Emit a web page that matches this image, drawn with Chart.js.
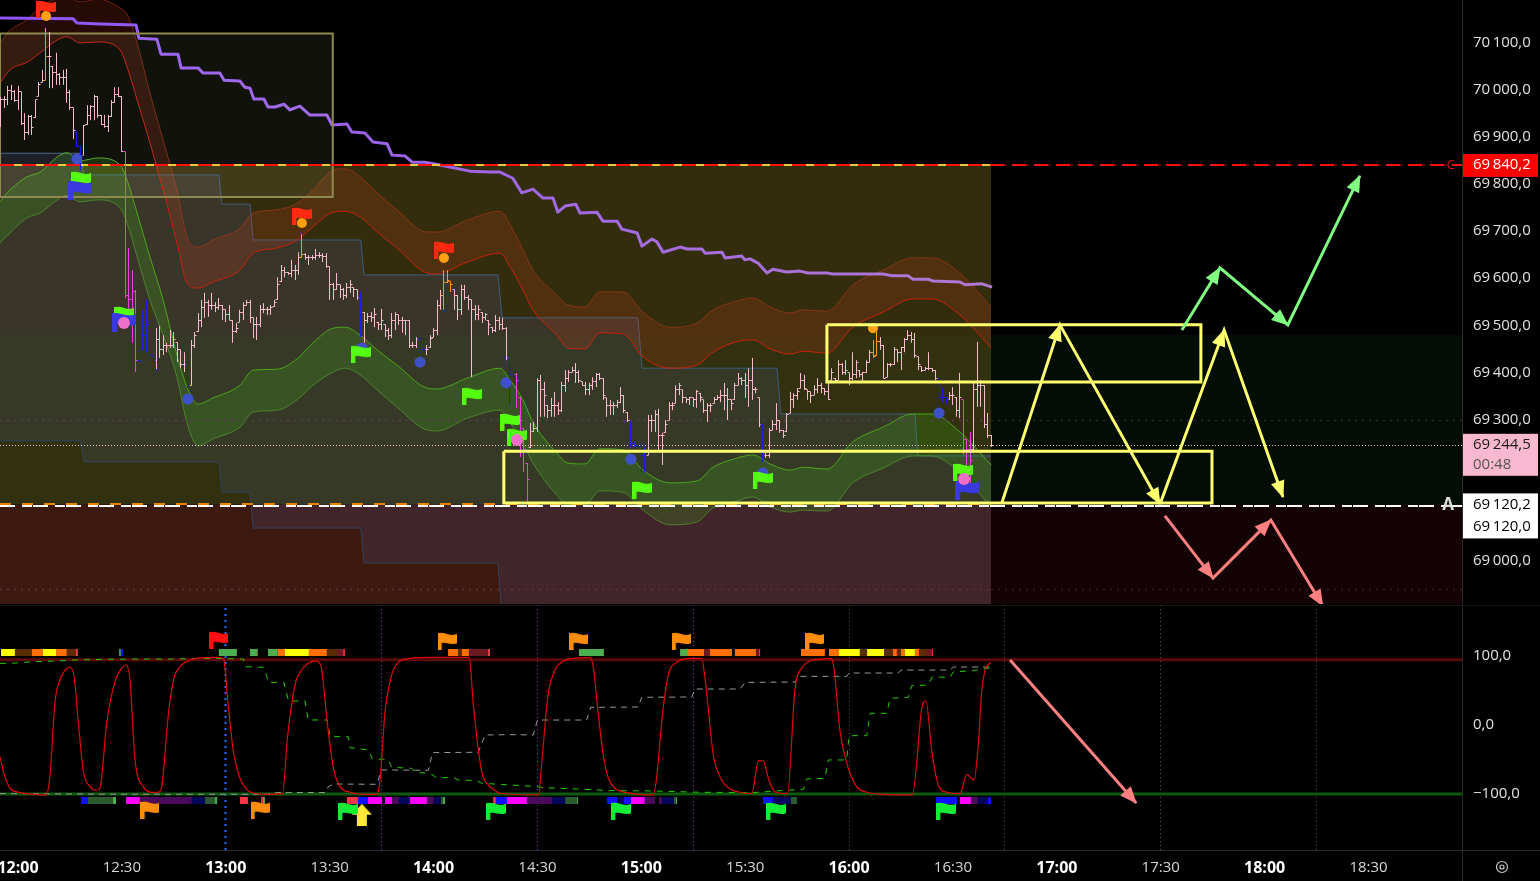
<!DOCTYPE html>
<html>
<head>
<meta charset="utf-8">
<title>Chart</title>
<script src="https://cdn.jsdelivr.net/npm/chart.js@4"></script>
<style>
html, body { margin: 0; padding: 0; background: #000; overflow: hidden; }
canvas { position: absolute; left: 0; display: block; }
#price { top: 0; }
#osc { top: 605px; }
</style>
</head>
<body>
<canvas id="price" width="1540" height="604"></canvas>
<canvas id="osc" width="1540" height="276"></canvas>
<script>
// time axis is minutes since midnight
var axisStart = 714.8, axisEnd = 1137;
var priceMin = 68909, priceMax = 70190;
var timeTicks = [720,750,780,810,840,870,900,930,960,990,1020,1050,1080,1110];
var priceTicks = [70100,70000,69900,69800,69700,69600,69500,69400,69300,69200,69100,69000];
var oscTicks = [100,0,-100];

// one minute bars, first bar at 11:55, open is the previous close
var firstBar = 715;
var barHigh = [69984,69986,70008,70010,69999,70008,69995,69950,69946,
69946,69978,70016,70042,70131,70122,70050,70078,
70035,70042,70044,69999,69961,69910,69880,69925,69967,69967,
69989,69986,69946,69946,69946,69978,70005,70005,69986,69868,
69664,69617,69575,69526,69533,69554,69501,69437,69494,69499,
69479,69463,69490,69486,69463,69448,69443,69416,69469,69486,69526,
69554,69569,69554,69569,69549,69558,69543,69533,69543,69511,69505,69533,69549,
69554,69554,69516,69518,69543,69547,69539,69543,69554,69602,
69628,69624,69613,69639,69628,69655,69694,69653,69649,69649,
69662,69655,69653,69653,69624,69590,69611,69586,69579,69590,
69596,69581,69575,69571,69528,69526,69528,69537,69507,
69535,69501,69494,69526,69528,69522,69518,69511,69511,69465,
69475,69473,69473,69458,69479,69494,69554,69575,69617,69617,
69592,69575,69564,69586,69586,69564,69554,69543,69543,69528,
69526,69511,69496,69522,69518,69516,69496,69431,69409,69399,
69348,69282,69208,69293,69295,69388,69395,69380,69331,69346,
69359,69337,69380,69405,69405,69412,69420,69405,69380,69380,
69378,69390,69399,69399,69388,69346,69342,69337,69342,69369,
69352,69316,69295,69253,69250,69250,69242,69310,69310,69320,
69323,69272,69299,69337,69337,69373,69378,69363,69346,69348,
69346,69363,69356,69342,69335,69335,69348,69352,69363,69378,
69367,69342,69378,69399,69390,69399,69409,69431,69369,69346,
69289,69229,69282,69299,69335,69299,69278,69314,69359,69356,
69367,69399,69395,69363,69359,69373,69388,69378,69367,69378,
69409,69388,69426,69420,69426,69399,69443,69426,69405,69401,
69426,69448,69469,69486,69475,69458,69420,69420,69454,69448,
69454,69473,69490,69486,69484,69433,69412,69412,69443,69409,
69405,69388,69367,69348,69359,69369,69348,69399,69342,69257,
69274,69378,69465,69384,69373,69314,69267];
var barLow = [69921,69961,69967,69978,69974,69957,69925,69893,69904,
69904,69940,69986,70016,70020,70003,70003,70010,
70010,70010,69972,69957,69895,69878,69829,69861,69925,69935,
69935,69940,69925,69919,69910,69942,69972,69984,69868,69558,
69501,69463,69401,69424,69448,69443,69433,69401,69407,69431,
69437,69443,69452,69452,69422,69409,69401,69367,69373,69452,69486,
69496,69516,69518,69533,69528,69533,69511,69507,69511,69463,69484,69507,69511,
69543,69505,69473,69469,69496,69526,69522,69522,69539,69554,
69592,69602,69607,69602,69596,69607,69643,69639,69628,69639,
69639,69643,69634,69622,69554,69554,69575,69558,69554,69558,
69569,69560,69554,69475,69463,69505,69507,69496,69490,
69490,69475,69469,69473,69490,69501,69484,69479,69452,69452,
69452,69441,69420,69437,69452,69475,69479,69533,69533,69590,
69571,69533,69511,69522,69554,69533,69390,69511,69511,69505,
69511,69479,69484,69486,69490,69490,69426,69331,69390,69325,
69221,69189,69127,69240,69274,69274,69306,69306,69303,69306,
69306,69310,69316,69359,69380,69401,69378,69378,69373,69352,
69352,69363,69369,69384,69342,69306,69310,69310,69325,69335,
69314,69295,69242,69242,69240,69189,69187,69225,69274,69274,
69236,69204,69272,69299,69320,69335,69352,69335,69335,69331,
69327,69325,69337,69314,69295,69316,69335,69342,69337,69320,
69299,69320,69342,69373,69373,69346,69327,69342,69356,69284,
69210,69219,69219,69278,69278,69272,69261,69274,69314,69325,
69342,69367,69363,69342,69335,69352,69356,69356,69352,69342,
69384,69378,69384,69395,69395,69373,69384,69388,69390,69378,
69399,69422,69431,69435,69448,69388,69390,69412,69416,69422,
69405,69443,69469,69463,69431,69405,69401,69405,69405,69401,
69384,69346,69337,69335,69342,69331,69306,69303,69225,69193,
69161,69236,69327,69327,69282,69261,69242];
var barClose = [69978,69980,69999,69995,69976,69995,69929,69910,69942,
69919,69978,70010,70020,70071,70071,70037,70033,
70025,70025,69993,69961,69914,69882,69861,69923,69946,69965,
69986,69946,69927,69921,69942,69972,69989,69986,69868,69564,
69554,69571,69426,69424,69479,69501,69437,69426,69469,69448,
69458,69458,69458,69469,69448,69416,69416,69373,69458,69479,69511,
69537,69549,69543,69543,69537,69543,69533,69522,69511,69486,69494,69528,69543,
69549,69516,69501,69501,69533,69533,69533,69537,69549,69586,
69617,69613,69609,69617,69617,69643,69651,69643,69643,69643,
69649,69649,69645,69624,69586,69575,69586,69575,69564,69581,
69586,69575,69558,69543,69511,69518,69516,69522,69501,
69511,69490,69479,69511,69522,69511,69511,69511,69458,69458,
69469,69448,69448,69448,69473,69490,69543,69564,69590,69596,
69586,69564,69533,69575,69560,69554,69533,69522,69533,69516,
69522,69501,69490,69511,69501,69494,69431,69395,69395,69384,
69299,69236,69172,69246,69282,69384,69363,69352,69320,69331,
69331,69320,69373,69388,69401,69405,69401,69384,69373,69363,
69373,69380,69395,69388,69352,69331,69331,69331,69337,69352,
69320,69299,69250,69246,69244,69225,69225,69299,69299,69310,
69267,69267,69289,69331,69331,69363,69373,69346,69342,69346,
69342,69359,69346,69320,69331,69331,69342,69346,69352,69352,
69342,69335,69373,69388,69384,69373,69384,69363,69363,69289,
69225,69225,69278,69289,69299,69278,69267,69310,69342,69352,
69359,69384,69367,69359,69352,69363,69373,69367,69359,69342,
69401,69384,69416,69401,69405,69388,69395,69422,69395,69401,
69422,69443,69433,69465,69458,69388,69416,69416,69448,69443,
69452,69469,69479,69469,69435,69416,69405,69409,69409,69405,
69388,69346,69346,69342,69352,69352,69320,69346,69257,69236,
69214,69363,69373,69373,69289,69267,69244.5];
var blueBars = [22,23,40,41,42,43,44,54,104,121,122,147,148,182,183,184,185,186,220,271,272,273];
var magentaBars = [36,37,38,39,149,150,151,152,278,279,280];
var orangeBars = [13,87,128,129,130,252,253];

// moving average
var avgTime = [714.8,735.9,737,743.7,754.1,754.9,760.1,761.3,766.2,767.1,772,773.4,778.3,779.5,784.1,785.5,787,788.1,791,792.2,794.2,796.8,798.5,801.4,804.3,809.2,810.7,815,816.4,820.2,822.5,826.6,828,831.8,833.8,837.5,840.4,844.7,850.5,856.3,859.2,862.9,865.5,868.7,871.6,874.5,875.9,878,881.1,882.3,887.2,888.9,893,894.4,898.8,900.2,903.1,904.5,906.3,911.2,913.2,917.5,918.4,923.3,924.2,929,929.9,931.4,933.7,936.3,938,942,945.8,948.1,953.6,955.3,965.2,969.8,972.4,977,978.4,982.8,984.2,992,993.5,998.4,1001.3];
var avgPrice = [70152,70150,70141,70139,70137,70109,70107,70075,70075,70046,70046,70035,70035,70020,70018,70005,70003,69980,69980,69963,69963,69969,69957,69965,69946,69946,69925,69927,69910,69908,69889,69885,69861,69859,69846,69846,69842,69836,69827,69825,69825,69812,69781,69789,69770,69770,69740,69753,69757,69738,69740,69721,69721,69704,69696,69668,69683,69677,69655,69666,69662,69662,69653,69655,69643,69647,69639,69641,69632,69611,69619,69613,69615,69611,69611,69609,69609,69609,69605,69605,69598,69598,69594,69592,69586,69588,69581];

// bands
var bandTime = [714.8,717.7,722.6,726.4,731.3,734.1,737.9,743.1,749.5,751.5,754.4,758.1,761.9,765.9,768.8,772,776.3,784.1,787.9,794.8,800.6,805.2,811,814.4,818.8,823.7,829.4,838.1,841,849.7,859.2,862.1,865.8,868.7,875.6,878.8,883.7,888,894.7,900.5,908.3,916.1,920.7,926.5,932.2,937.2,942.9,946.7,953.6,961.1,969.8,978.4,983.9,992,1001];
var redTop = [70099,70126,70148,70175,70194,70198,70186,70192,70173,70160,70099,69993,69893,69787,69687,69666,69681,69706,69738,69745,69759,69787,69829,69832,69815,69781,69745,69698,69698,69723,69742,69713,69660,69617,69564,69543,69539,69571,69571,69528,69496,69505,69533,69549,69558,69539,69526,69533,69530,69586,69617,69643,69643,69611,69539];
var redBottom = [70014,70042,70058,70078,70105,70112,70099,70101,70084,70048,69978,69887,69787,69675,69590,69579,69592,69617,69653,69664,69681,69709,69740,69742,69730,69698,69664,69611,69609,69634,69653,69624,69575,69533,69479,69452,69450,69484,69482,69433,69409,69416,69443,69463,69469,69450,69439,69445,69441,69496,69528,69556,69556,69522,69452];
var greenTop = [69762,69787,69815,69825,69857,69866,69849,69855,69840,69808,69738,69645,69554,69437,69369,69333,69346,69373,69405,69407,69429,69463,69494,69496,69479,69448,69416,69367,69365,69388,69409,69384,69342,69295,69229,69208,69206,69238,69236,69193,69166,69170,69199,69216,69225,69206,69193,69199,69195,69253,69284,69312,69312,69274,69204];
var greenBottom = [69675,69696,69728,69738,69766,69776,69762,69766,69749,69717,69645,69554,69479,69390,69293,69244,69259,69284,69316,69320,69342,69373,69401,69409,69395,69363,69327,69278,69276,69303,69320,69293,69250,69208,69140,69119,69119,69149,69146,69108,69077,69083,69113,69125,69136,69115,69104,69108,69106,69166,69197,69223,69223,69187,69115];

// stepped channel
var channelTime = [714.8,737.9,739.1,778,778.9,787,787.9,819,819.9,858.6,859.8,899,900.2,939.2,940.3,979,979.9,1001];
var channelTop = [69865,69865,69819,69819,69757,69757,69681,69681,69607,69607,69516,69516,69409,69409,69312,69312,69223,69223];
var channelBottom = [69255,69255,69210,69210,69146,69146,69070,69070,68996,68996,68875,68875,68811,68811,68748,68748,68684,68684];

// levels
var levelC = 69840.2, levelA = 69120.2, levelA2 = 69120, lastPrice = 69244.5;
var dotLevelHigh = 69299, dotLevelLow = 68939, zoneGreenTop = 69480;
var sessionEnd = 1001;

// drawn rectangles [start, end, top, bottom]
var box1 = [714.8, 810.9, 70119, 69772];
var box2 = [953.6, 1061.6, 69501, 69380];
var box3 = [860.3, 1064.8, 69233, 69123];

// drawn arrows
var yellowArrowTime1 = [1004.1, 1020.9, 1049.8];
var yellowArrowPrice1 = [69123, 69501, 69121];
var yellowArrowTime2 = [1049.8, 1068.3, 1085.3];
var yellowArrowPrice2 = [69121, 69490, 69136];
var greenArrowTime = [1056.1, 1067.1, 1086.7, 1107.5];
var greenArrowPrice = [69490, 69622, 69501, 69817];
var pinkArrowTime = [1051.2, 1065.1, 1081.8, 1096.8];
var pinkArrowPrice = [69096, 68964, 69087, 68905];
var oscArrowTime = [1006.5, 1042.9];
var oscArrowValue = [93.5, -113];

// signal markers on price
var redFlagTime = [728.1, 802, 843];
var redFlagPrice = [70171, 69732, 69660];
var limeFlagTime = [738.2, 750.6, 819, 851.1, 862.1, 864.1, 900.2, 935.1, 992.9];
var limeFlagPrice = [69808, 69522, 69439, 69350, 69295, 69263, 69151, 69172, 69189];
var blueFlagTime = [737.9, 750.6, 994];
var blueFlagPrice = [69787, 69507, 69151];
var orangeDotTime = [728.1, 802, 843, 966.9];
var orangeDotPrice = [70156, 69717, 69643, 69494];
var blueDotTime = [737, 769.1, 819.3, 836.1, 860.9, 897, 935.1, 986];
var blueDotPrice = [69853, 69344, 69452, 69422, 69378, 69216, 69187, 69314];
var pinkDotTime = [750.6, 864.1, 993.2];
var pinkDotPrice = [69505, 69257, 69174];

// oscillator
var oscTime = [714.8,715.8,717.7,720.6,724.4,728.1,729.2,730.7,732.1,733.6,735,736.2,737.4,738.9,740.8,742.7,743.7,745.6,748,749.9,751.2,752.3,753.8,756.2,758.6,760.5,761.5,763.4,764.9,766.8,769.7,773.5,777.4,779.3,780.7,782.2,784.1,786,788,791.8,796.4,797.8,800,801.9,803.8,806.2,807.4,809.6,811.1,813,815.9,820.7,823.6,824.5,826,827.9,829.8,833.2,839.9,850.3,851.5,853.9,855.8,858.2,859.2,870.3,871.2,873,875.1,877.5,880.4,885.2,886.2,887.6,889,890.5,892.4,895.8,903.5,904.4,906.2,907.8,910.2,914.1,917.4,918.4,920.8,923.2,925.6,928.5,931.9,933.8,935.2,936.7,938.1,940,942.2,944.4,946.3,948.7,951.6,954.5,955.5,957.4,959.8,962.2,965.1,969.9,978.3,981,982.2,983.9,985.8,988.2,992,994,996.1,997.3,998.3,999.3,1000.9];
var oscValue = [-46,-67.8,-91.8,-98,-100.5,-101.4,-75,33.3,64.6,79,83.4,69.4,4.4,-67.8,-89.4,-94.7,-90.9,2,62.2,81.5,86.3,67,-50.9,-89.4,-97.6,-97.6,-89.4,14,64.6,83.9,93.5,96.9,97.3,95.9,28.5,-38.9,-77.4,-93.3,-99,-100.5,-99.5,-19.6,57.4,79,88.7,92,86.3,-10,-62.9,-89.4,-97.6,-100.5,-100.5,-82.2,18.9,71.8,90.1,95.9,97.3,97.3,28.5,-67.8,-87,-96.6,-99,-101.4,-58.1,40.5,79,92,95.9,96.9,81.5,14,-43.7,-77.4,-91.8,-98,-101.4,-77.4,18.9,71.8,90.1,95.9,95.9,67,-43.7,-79.8,-92.8,-97.6,-99.5,-52.3,-52.3,-77.4,-94.2,-99,-99.5,52.6,81.5,92,94.9,95.9,86.3,-10,-62.9,-89.4,-97.6,-100.5,-101.4,23.7,34.3,-38.9,-87,-97.6,-99.5,-71.6,-79.8,-29.2,47.8,79,90.1];
var fastTime = [714.8,717.7,724.4,730.7,736.5,743.7,753.3,762.9,777.4,785.1,785.6,790.8,791.8,792.3,796.8,798.1,802.9,803.8,809.3,810.1,815.4,815.9,821.2,822.3,826.9,827.9,833.7,834.6,839,840.9,845.7,847.2,852.5,853.9,862.1,869.8,871.7,881.3,891,903.5,917,932.4,942,946.8,947.8,953,954,959.3,960,965.1,966.1,970.9,971.8,977.1,978.1,982.9,983.9,989.2,990.1,994.9,1000.9];
var fastValue = [88.7,88.7,91.1,92,93.5,94.4,94.9,94.9,95.9,94.9,83.9,82.9,70.9,61.2,61.2,34.3,34.3,6.9,6.9,-17.2,-17.2,-33.1,-36.5,-49.5,-50,-61.5,-63,-68.7,-70.2,-76.4,-76.4,-79.8,-80.7,-84.6,-87,-89.4,-90.9,-92.8,-95.2,-95.7,-97.6,-98,-94.7,-93.3,-78.3,-77.4,-50.9,-50.9,-15.8,-15.8,16.5,16.5,38.1,39.6,56.4,57.4,68.5,68.9,76.6,77.6,82.4];
var slowTime = [714.8,753.3,791.8,794.7,808.7,809.6,811.1,823.6,825,838.5,839.7,852.9,854.9,862.1,868.8,870,884.2,885.4,899.1,900.1,914.6,915.5,928.5,930,944.4,945.4,959.3,960,974.2,975,989.2,990.1,1000.9];
var slowValue = [-99.5,-100.5,-100.5,-98,-98,-89.4,-85.6,-86.1,-65.3,-65.8,-40.3,-39.8,-14.8,-14.3,-14.8,6.8,6.8,25.1,25.6,39.6,40.1,51.6,51.6,61.2,61.7,69.9,69.9,74.7,74.7,79,79,83.4,83.4];
var oscUpper = 94, oscLower = -100;
var sessionLines = [825, 870, 915];
var sessionLinesGrey = [960, 1005, 1050, 1095];
var sessionLineBlue = 780;

// state strips above and below the oscillator
var topStripValue = 104.3, bottomStripValue = -109.4;
var topStripStart = [715.1,719.1,724,727.2,731,734.1,736.7,749.2,749.7,778,787,789,792.2,795,797.1,804,809.2,812.1,813.9,844.2,847.1,848.2,850.2,855.7,882,911.2,913.2,918.1,919.8,927,933.1,934,946.1,954.2,957.1,963.1,965.2,970.1,972.7,973.8,975,976.1,979,980.2,982.2,983.9];
var topStripEnd = [719.1,724,727.2,731,734.1,736.7,737.3,749.7,750.3,783.2,789,789.3,795,797.1,804,809.2,812.1,813.9,814.4,847.1,848.2,850.2,855.7,856.3,889.2,913.2,918.1,919.8,926.2,933.1,934,934.3,953,957.1,963.1,965.2,970.1,972.7,973.8,975,976.1,979,980.2,982.2,983.9,984.2];
var topStripState = [5,3,4,5,2,3,6,0,7,0,0,6,0,4,5,2,3,1,6,4,3,4,1,6,0,0,4,1,4,4,1,6,4,4,5,3,5,3,4,3,4,5,4,3,1,6];
var bottomStripStart = [738.2,740.2,747.4,751.2,755.2,770.2,774,776.9,784.1,790.2,790.7,815,818.2,821.1,826,828,830,833.2,838.1,840.1,842.1,842.7,857.2,858,861.2,867,874.2,878,881.4,890.1,893,895,897,901,905.1,906,909.4,910,935.1,938,943.2,945,985.1,992,995.2,997.2,1000.1];
var bottomStripEnd = [740.2,747.4,748.3,755.2,770.2,774,776.9,777.5,786.4,790.7,791.3,818.2,821.1,825.1,828,830,833.2,838.1,840.1,842.1,842.7,843.3,858,861.2,867,874.2,878,881.4,881.7,893,895,897,901,904,906,909.4,910,910.3,938,943.2,945,945.2,991.2,995.2,997.2,1000.1,1001];
var bottomStripState = [7,8,0,9,10,11,8,0,6,6,0,6,7,9,9,10,11,9,10,11,8,0,6,7,9,10,11,8,0,7,11,7,9,10,10,11,8,0,7,11,8,0,7,9,10,11,7];

// signal markers on the oscillator
var redFlagOscTime = [778];
var redFlagOscValue = [122.4];
var orangeFlagOscTime = [843.9, 882, 911.5, 950.1, 758.1, 789.9];
var orangeFlagOscValue = [120.9, 120.9, 120.9, 120.9, -123, -123];
var greenFlagOscTime = [815.3, 858, 894.1, 938.9, 988];
var greenFlagOscValue = [-124.6, -124.6, -124.6, -124.6, -124.6];
var upArrowOscTime = [819.3];
var upArrowOscValue = [-130];

var axisFont = '"Open Sans", sans-serif';
var stateColors = ['#4caf50','#6b1a22','#ff7000','#5a2d00','#ff7000','#ffff00','#f23645','#1010ff','#2c5a2f','#ff00ff','#4a0a5a','#05055a'];
var pxPerMin = 1462 / (axisEnd - axisStart);
var pxPerPrice = 604 / (priceMax - priceMin);

function pts(xs, ys) { return xs.map(function (x, i) { return { x: x, y: ys[i] }; }); }
// keep thin marks on the pixel grid so they stay crisp
function snapT(t) { return axisStart + (Math.round((t - axisStart) * pxPerMin - 0.5) + 0.5) / pxPerMin; }
function snapP(p) { return priceMax - (Math.round((priceMax - p) * pxPerPrice - 0.5) + 0.5) / pxPerPrice; }
function snapP2(p) { return priceMax - Math.round((priceMax - p) * pxPerPrice) / pxPerPrice; }
function fmtNum(v, dec) {
    var neg = v < 0, s = Math.abs(v).toFixed(dec).replace('.', ',');
    var parts = s.split(',');
    var whole = parts[0].replace(/\B(?=(\d{3})+$)/g, '\u2009');
    return (neg ? '\u2212' : '') + whole + ',' + parts[1];
}
function makeFlag(color, w, h) {
    var c = document.createElement('canvas');
    c.width = w; c.height = h;
    var g = c.getContext('2d');
    g.fillStyle = color;
    g.fillRect(0, 1, w * 0.22, h - 1);
    g.beginPath();
    g.moveTo(0, 2);
    g.bezierCurveTo(w * 0.3, -2, w * 0.6, h * 0.32, w, h * 0.1);
    g.lineTo(w, h * 0.62);
    g.bezierCurveTo(w * 0.65, h * 0.8, w * 0.4, h * 0.42, 0, h * 0.72);
    g.closePath();
    g.fill();
    return c;
}
function makeUpArrow(color) {
    var c = document.createElement('canvas');
    c.width = 20; c.height = 22;
    var g = c.getContext('2d');
    g.fillStyle = color;
    g.beginPath();
    g.moveTo(10, 0); g.lineTo(20, 11); g.lineTo(15, 11); g.lineTo(15, 22);
    g.lineTo(5, 22); g.lineTo(5, 11); g.lineTo(0, 11);
    g.closePath();
    g.fill();
    return c;
}
// first pushed is drawn first, so later ones sit on top
function adder(list) {
    return function (ds) {
        ds.order = 1000 - list.length;
        if (ds.pointRadius === undefined) ds.pointRadius = 0;
        if (ds.borderWidth === undefined) ds.borderWidth = 1;
        list.push(ds);
        return ds;
    };
}
function boxPath(b) {
    return [{ x: b[0], y: b[2] }, { x: b[1], y: b[2] }, { x: b[1], y: b[3] }, { x: b[0], y: b[3] }, { x: b[0], y: b[2] }];
}
function hline(a, b, y) { return [{ x: a, y: y }, { x: b, y: y }]; }

var arrowHeads = {
    id: 'arrowHeads',
    afterDatasetsDraw: function (chart) {
        var c = chart.ctx, sx = chart.scales.x, sy = chart.scales.y;
        chart.data.datasets.forEach(function (ds) {
            if (!ds.arrows) return;
            for (var i = 1; i < ds.data.length; i++) {
                var tx = sx.getPixelForValue(ds.data[i].x), ty = sy.getPixelForValue(ds.data[i].y);
                var fx = sx.getPixelForValue(ds.data[i - 1].x), fy = sy.getPixelForValue(ds.data[i - 1].y);
                var a = Math.atan2(ty - fy, tx - fx);
                c.save();
                c.translate(tx, ty);
                c.rotate(a);
                c.fillStyle = ds.borderColor;
                c.beginPath();
                c.moveTo(1, 0); c.lineTo(-16, -7); c.lineTo(-16, 7);
                c.closePath();
                c.fill();
                c.restore();
            }
        });
    }
};

var priceTags = {
    id: 'priceTags',
    afterDraw: function (chart) {
        var c = chart.ctx, y = chart.scales.y, x = chart.scales.x;
        var left = chart.chartArea.right + 1, w = 75;
        c.save();
        c.font = '15px ' + axisFont;
        c.textBaseline = 'middle';
        c.textAlign = 'left';
        var yc = y.getPixelForValue(levelC), yl = y.getPixelForValue(lastPrice), ya = y.getPixelForValue(levelA);
        c.fillStyle = '#ff0000';
        c.fillRect(left, yc - 11, w, 23);
        c.fillStyle = '#ffffff';
        c.fillText(fmtNum(levelC, 1), left + 10, yc);
        c.fillStyle = '#f8b8d0';
        c.fillRect(left, yl - 12, w, 42);
        c.fillStyle = '#1a1a1a';
        c.fillText(fmtNum(lastPrice, 1), left + 10, yl - 1);
        c.fillStyle = '#555555';
        c.fillText('00:48', left + 10, yl + 19);
        c.fillStyle = '#ffffff';
        c.fillRect(left, ya - 11, w, 45);
        c.fillStyle = '#000000';
        c.fillText(fmtNum(levelA, 1), left + 10, ya);
        c.fillText(fmtNum(levelA2, 1), left + 10, ya + 22);
        c.textAlign = 'center';
        c.fillStyle = '#d81010';
        c.font = '13px ' + axisFont;
        c.fillText('C', x.getPixelForValue(1133.8), yc);
        c.fillStyle = '#dddddd';
        c.font = 'bold 17px ' + axisFont;
        c.fillText('A', x.getPixelForValue(1133), ya + 1);
        // axis rule and panel edge
        c.strokeStyle = '#2a2a2a';
        c.beginPath();
        c.moveTo(chart.chartArea.right + 0.5, 0);
        c.lineTo(chart.chartArea.right + 0.5, chart.height);
        c.stroke();
        c.restore();
    }
};

var oscChrome = {
    id: 'oscChrome',
    afterDraw: function (chart) {
        var c = chart.ctx, a = chart.chartArea;
        c.save();
        c.strokeStyle = '#2a2a2a';
        c.beginPath();
        c.moveTo(a.right + 0.5, 0); c.lineTo(a.right + 0.5, chart.height);
        c.moveTo(0, a.bottom + 0.5); c.lineTo(chart.width, a.bottom + 0.5);
        c.moveTo(0, 0); c.lineTo(chart.width, 0);
        c.stroke();
        c.strokeStyle = '#c8c8c8';
        c.lineWidth = 1.2;
        c.beginPath();
        c.arc(1502, 262, 5.5, 0, Math.PI * 2);
        c.stroke();
        c.beginPath();
        c.arc(1502, 262, 2, 0, Math.PI * 2);
        c.stroke();
        c.restore();
    }
};

function noPadding(s) {
    s.paddingTop = 0; s.paddingBottom = 0; s.paddingLeft = 0; s.paddingRight = 0;
}

function baseOptions(yMin, yMax, yTicks, showTime, dec) {
    return {
        responsive: false,
        animation: false,
        events: [],
        layout: { padding: 0, autoPadding: false },
        plugins: { legend: { display: false }, tooltip: { enabled: false } },
        scales: {
            x: {
                type: 'linear',
                min: axisStart,
                max: axisEnd,
                display: showTime,
                grid: { display: false },
                border: { display: false },
                afterBuildTicks: function (s) { s.ticks = timeTicks.map(function (v) { return { value: v }; }); },
                afterFit: function (s) { if (showTime) s.height = 31; noPadding(s); },
                ticks: {
                    autoSkip: false,
                    maxRotation: 0,
                    padding: 1,
                    callback: function (v) {
                        var m = v % 60;
                        return Math.floor(v / 60) + ':' + (m < 10 ? '0' + m : m);
                    },
                    font: function (ctx) {
                        var major = ctx.tick && ctx.tick.value % 60 === 0;
                        return { family: axisFont, size: major ? 16 : 15, weight: major ? 'bold' : 'normal' };
                    },
                    color: function (ctx) { return ctx.tick && ctx.tick.value % 60 === 0 ? '#ffffff' : '#d6d6d6'; }
                }
            },
            y: {
                type: 'linear',
                position: 'right',
                min: yMin,
                max: yMax,
                grid: { display: false },
                border: { display: false },
                afterBuildTicks: function (s) { s.ticks = yTicks.map(function (v) { return { value: v }; }); },
                afterFit: function (s) { s.width = 78; noPadding(s); },
                ticks: {
                    autoSkip: false,
                    padding: 3,
                    color: '#e2e2e2',
                    font: { family: axisFont, size: 15 },
                    callback: function (v) { return fmtNum(v, dec); }
                }
            }
        }
    };
}

// price panel
var priceSets = [];
var addPrice = adder(priceSets);
var smooth = 'monotone';
addPrice({ data: hline(axisStart, axisEnd, zoneGreenTop), borderWidth: 0, fill: { value: levelA2 }, backgroundColor: 'rgba(20,90,40,0.14)' });
addPrice({ data: hline(axisStart, axisEnd, levelA2), borderWidth: 0, fill: { value: priceMin }, backgroundColor: '#140204' });
addPrice({ data: hline(axisStart, sessionEnd, levelC), borderWidth: 0, fill: { value: levelA2 }, backgroundColor: '#332d0e' });
addPrice({ data: hline(axisStart, sessionEnd, levelA2), borderWidth: 0, fill: { value: priceMin }, backgroundColor: '#3d1a10' });
addPrice({ data: pts(channelTime, channelTop), borderColor: '#3d5c80', fill: '+1', backgroundColor: 'rgba(90,95,170,0.17)' });
addPrice({ data: pts(channelTime, channelBottom), borderColor: '#33405e' });
addPrice({ data: hline(axisStart, sessionEnd, zoneGreenTop), borderWidth: 0, fill: { value: levelA2 }, backgroundColor: 'rgba(20,140,40,0.05)' });
addPrice({ data: pts(bandTime, redTop), cubicInterpolationMode: smooth, borderColor: 'rgba(200,60,25,0.5)', fill: '+1', backgroundColor: 'rgba(255,70,30,0.15)' });
addPrice({ data: pts(bandTime, redBottom), cubicInterpolationMode: smooth, borderColor: 'rgba(220,30,10,0.85)' });
addPrice({ data: pts(bandTime, greenTop), cubicInterpolationMode: smooth, borderColor: '#4aa61c', fill: '+1', backgroundColor: 'rgba(70,255,20,0.14)' });
addPrice({ data: pts(bandTime, greenBottom), cubicInterpolationMode: smooth, borderColor: 'rgba(90,170,50,0.6)' });
addPrice({
    data: pts(avgTime, avgPrice),
    borderWidth: 3,
    borderJoinStyle: 'round',
    borderColor: function (ctx) {
        var a = ctx.chart.chartArea;
        if (!a) return '#9b5ff0';
        var g = ctx.chart.ctx.createLinearGradient(0, 0, 992, 0);
        g.addColorStop(0, '#8f55f8');
        g.addColorStop(1, '#b078d0');
        return g;
    }
});
addPrice({ data: hline(box1[0], box1[1], box1[2]), borderWidth: 0, fill: { value: box1[3] }, backgroundColor: 'rgba(255,255,180,0.07)' });
addPrice({ data: boxPath(box1), borderColor: '#8f8850', borderWidth: 2 });
addPrice({ data: hline(axisStart, sessionEnd, snapP(dotLevelHigh)), borderColor: '#5c3c52', borderWidth: 1.5, borderDash: [2, 5] });
addPrice({ data: hline(sessionEnd, axisEnd, snapP(dotLevelHigh)), borderColor: '#2c2a2c', borderWidth: 1.5, borderDash: [2, 5] });
addPrice({ data: hline(axisStart, sessionEnd, snapP(dotLevelLow)), borderColor: '#6a2c3c', borderWidth: 1.5, borderDash: [2, 5] });
addPrice({ data: hline(sessionEnd, axisEnd, snapP(dotLevelLow)), borderColor: '#44162c', borderWidth: 1.5, borderDash: [2, 5] });
addPrice({ data: hline(axisStart, axisEnd, snapP(lastPrice)), borderColor: '#f8bbd0', borderWidth: 1, borderDash: [1, 2] });
addPrice({ data: hline(axisStart, axisEnd, snapP2(levelA - 2.5)), borderColor: '#ffffff', borderWidth: 2, borderDash: [15, 18] });
addPrice({ data: hline(axisStart, axisEnd, snapP2(levelA - 2.5)), borderColor: '#f5f5f5', borderWidth: 2, borderDash: [10, 23], borderDashOffset: -22 });
addPrice({ data: hline(axisStart, sessionEnd, snapP2(levelA + 1)), borderColor: '#e88400', borderWidth: 2, borderDash: [11, 11] });
addPrice({ data: hline(axisStart, sessionEnd, snapP2(levelC)), borderColor: '#e8c840', borderWidth: 2 });
addPrice({ data: hline(sessionEnd, axisEnd, snapP2(levelC)), borderColor: '#5c0505', borderWidth: 2, borderDash: [16, 6] });
addPrice({ data: hline(axisStart, axisEnd, snapP2(levelC)), borderColor: '#ff1010', borderWidth: 2, borderDash: [14, 8] });

// ohlc bars as one path per colour: open tick, wick, close tick
function barPath(color) {
    var out = [], tick = 2 / pxPerMin;
    barHigh.forEach(function (h, i) {
        var c = 'pink';
        if (blueBars.indexOf(i) >= 0) c = 'blue';
        if (magentaBars.indexOf(i) >= 0) c = 'magenta';
        if (orangeBars.indexOf(i) >= 0) c = 'orange';
        if (c !== color) return;
        var t = snapT(firstBar + i), open = i > 0 ? barClose[i - 1] : barClose[0];
        open = snapP(Math.min(h, Math.max(barLow[i], open)));
        var close = snapP(barClose[i]);
        out.push({ x: t - tick, y: open }, { x: t, y: open }, { x: t, y: null });
        out.push({ x: t, y: barLow[i] }, { x: t, y: h }, { x: t, y: null });
        out.push({ x: t, y: close }, { x: t + tick, y: close }, { x: t + tick, y: null });
    });
    return out;
}
addPrice({ data: barPath('pink'), borderColor: '#f8bbd0', borderWidth: 1, spanGaps: false });
addPrice({ data: barPath('blue'), borderColor: '#1c1ce8', borderWidth: 1, spanGaps: false });
addPrice({ data: barPath('magenta'), borderColor: '#f040e0', borderWidth: 1, spanGaps: false });
addPrice({ data: barPath('orange'), borderColor: '#ff9c10', borderWidth: 1, spanGaps: false });

addPrice({ data: pts(blueDotTime, blueDotPrice), showLine: false, pointRadius: 5.5, pointBorderWidth: 0, pointBackgroundColor: '#3f51c8' });
addPrice({ data: pts(orangeDotTime, orangeDotPrice), showLine: false, pointRadius: 5, pointBorderWidth: 0, pointBackgroundColor: '#ffa010' });
addPrice({ data: pts(redFlagTime, redFlagPrice), showLine: false, pointRadius: 10, pointStyle: makeFlag('#ff2a10', 20, 18) });
addPrice({ data: pts(limeFlagTime, limeFlagPrice), showLine: false, pointRadius: 10, pointStyle: makeFlag('#55ff11', 20, 18) });
addPrice({ data: pts(blueFlagTime, blueFlagPrice), showLine: false, pointRadius: 10, pointStyle: makeFlag('#3a3ae0', 24, 20) });
addPrice({ data: pts(pinkDotTime, pinkDotPrice), showLine: false, pointRadius: 6, pointBorderWidth: 0, pointBackgroundColor: '#f070c8' });

addPrice({ data: boxPath(box2), borderColor: '#ffff70', borderWidth: 3 });
addPrice({ data: boxPath(box3), borderColor: '#ffff70', borderWidth: 3 });
addPrice({ data: pts(yellowArrowTime1, yellowArrowPrice1), borderColor: '#ffff70', borderWidth: 3, arrows: true });
addPrice({ data: pts(yellowArrowTime2, yellowArrowPrice2), borderColor: '#ffff70', borderWidth: 3, arrows: true });
addPrice({ data: pts(greenArrowTime, greenArrowPrice), borderColor: '#80ff80', borderWidth: 3, arrows: true });
addPrice({ data: pts(pinkArrowTime, pinkArrowPrice), borderColor: '#ff8080', borderWidth: 3, arrows: true });

new Chart(document.getElementById('price'), {
    type: 'line',
    data: { datasets: priceSets },
    options: baseOptions(priceMin, priceMax, priceTicks, false, 1),
    plugins: [arrowHeads, priceTags]
});

// oscillator panel
var oscMin = -181, oscMax = 173;
var oscSets = [];
var addOsc = adder(oscSets);
function vlines(list) {
    var out = [];
    list.forEach(function (t) {
        var s = snapT(t);
        out.push({ x: s, y: oscMin }, { x: s, y: oscMax }, { x: s, y: null });
    });
    return out;
}
function stripPath(starts, ends, states, value, state) {
    var out = [];
    starts.forEach(function (s, i) {
        if (states[i] !== state) return;
        out.push({ x: s, y: value }, { x: ends[i], y: value }, { x: ends[i], y: null });
    });
    return out;
}
addOsc({ data: vlines([sessionLineBlue]), borderColor: '#2f6fff', borderWidth: 2, borderDash: [2, 4] });
addOsc({ data: vlines(sessionLines), borderColor: '#a030d0', borderWidth: 1, borderDash: [1, 3] });
addOsc({ data: vlines(sessionLinesGrey), borderColor: '#5a5a5a', borderWidth: 1, borderDash: [1, 3] });
addOsc({ data: hline(axisStart, axisEnd, oscUpper), borderColor: '#5c0a0a', borderWidth: 3 });
addOsc({ data: hline(axisStart, axisEnd, oscLower), borderColor: '#0e5a0e', borderWidth: 3 });
addOsc({ data: pts(slowTime, slowValue), borderColor: '#9a9a9a', borderDash: [6, 5] });
addOsc({ data: pts(fastTime, fastValue), borderColor: '#22cc00', borderDash: [6, 6] });
addOsc({ data: pts(oscTime, oscValue), cubicInterpolationMode: 'monotone', borderColor: '#e00808', borderWidth: 1.2 });
stateColors.forEach(function (col, state) {
    addOsc({ data: stripPath(topStripStart, topStripEnd, topStripState, topStripValue, state), borderColor: col, borderWidth: 7, spanGaps: false });
    addOsc({ data: stripPath(bottomStripStart, bottomStripEnd, bottomStripState, bottomStripValue, state), borderColor: col, borderWidth: 7, spanGaps: false });
});
addOsc({ data: pts(redFlagOscTime, redFlagOscValue), showLine: false, pointRadius: 10, pointStyle: makeFlag('#ff1010', 19, 18) });
addOsc({ data: pts(orangeFlagOscTime, orangeFlagOscValue), showLine: false, pointRadius: 10, pointStyle: makeFlag('#ff8c0a', 19, 18) });
addOsc({ data: pts(upArrowOscTime, upArrowOscValue), showLine: false, pointRadius: 10, pointStyle: makeUpArrow('#ffe838') });
addOsc({ data: pts(greenFlagOscTime, greenFlagOscValue), showLine: false, pointRadius: 10, pointStyle: makeFlag('#11ee33', 20, 18) });
addOsc({ data: pts(oscArrowTime, oscArrowValue), borderColor: '#ff8080', borderWidth: 3, arrows: true });

new Chart(document.getElementById('osc'), {
    type: 'line',
    data: { datasets: oscSets },
    options: baseOptions(oscMin, oscMax, oscTicks, true, 1),
    plugins: [arrowHeads, oscChrome]
});
</script>
</body>
</html>
